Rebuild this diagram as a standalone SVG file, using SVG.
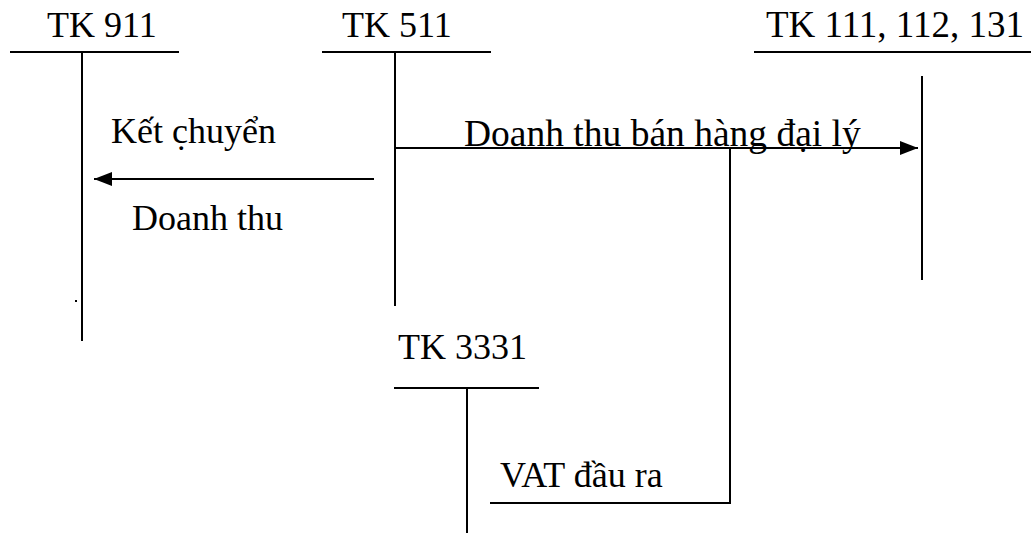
<svg xmlns="http://www.w3.org/2000/svg" width="1031" height="533" viewBox="0 0 1031 533">
<style>
.ln{stroke:#000;stroke-width:2;fill:none}
text{font-family:'Liberation Serif','Times New Roman',Times,serif;font-size:36px;fill:#000}
</style>
<defs>
<marker id="ah" markerUnits="userSpaceOnUse" markerWidth="20" markerHeight="16" refX="18" refY="8" orient="auto">
<path d="M0,1 L18,8 L0,15 Z" fill="#000"/>
</marker>
</defs>
<rect width="1031" height="533" fill="#fff"/>
<g id="tk911">
<text x="47" y="37">TK 911</text>
<line class="ln" x1="10" y1="52" x2="179" y2="52"/>
<line class="ln" x1="82" y1="52" x2="82" y2="341"/>
<rect x="75" y="300" width="2" height="2" fill="#000"/>
</g>
<g id="tk511">
<text x="342" y="37">TK 511</text>
<line class="ln" x1="322" y1="52" x2="491" y2="52"/>
<line class="ln" x1="395" y1="52" x2="395" y2="306"/>
</g>
<g id="tk111">
<text x="766" y="37" style="font-size:37px">TK 111, 112, 131</text>
<line class="ln" x1="754" y1="52" x2="1031" y2="52"/>
<line class="ln" x1="922" y1="76" x2="922" y2="280"/>
</g>
<g id="tk3331">
<text x="398" y="359">TK 3331</text>
<line class="ln" x1="394" y1="388" x2="539" y2="388"/>
<line class="ln" x1="467" y1="388" x2="467" y2="533"/>
</g>
<g id="connectors">
<line class="ln" x1="374" y1="179" x2="94" y2="179" marker-end="url(#ah)"/>
<line class="ln" x1="395" y1="148" x2="918" y2="148" marker-end="url(#ah)"/>
<polyline class="ln" points="730,148 730,503 490,503"/>
</g>
<g id="labels">
<text x="111" y="143">Kết c̣huyển</text>
<text x="132" y="230">Doanh thu</text>
<text x="464" y="146" style="font-size:37.5px">Doanh thu bán hàng đại lý</text>
<text x="500" y="487">VAT đầu ra</text>
</g>
</svg>
